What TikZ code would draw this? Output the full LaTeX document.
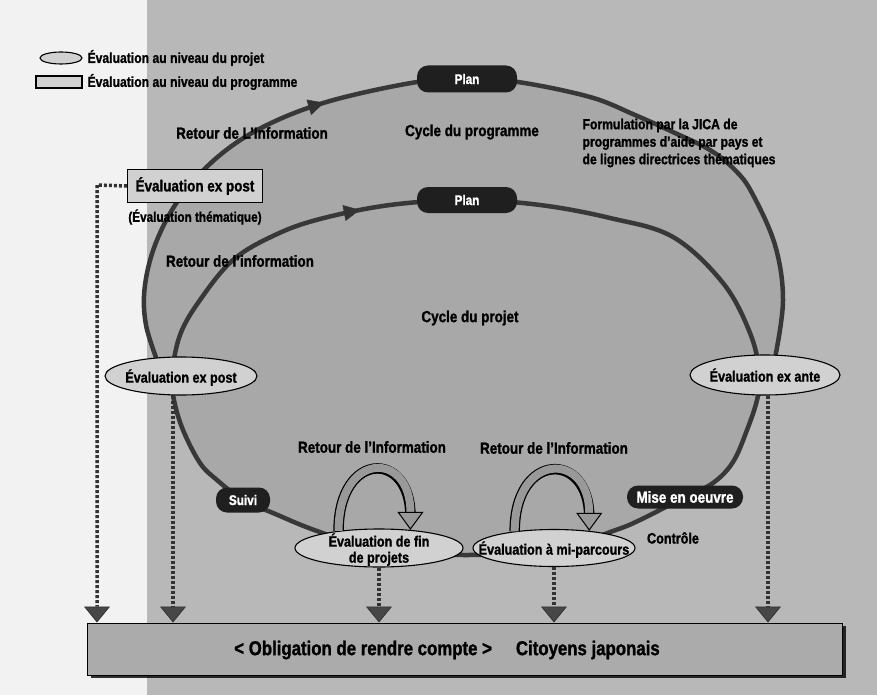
\documentclass[tikz,border=0pt]{standalone}
\usepackage{fontspec}
\setmainfont{Liberation Sans}[FakeStretch=0.84, BoldFeatures={FakeBold=1.2}]
\usetikzlibrary{shapes.geometric, arrows.meta, decorations.markings, shadows}
\tikzset{%
    evproj/.style={ellipse, draw=black, line width=1.1pt, fill=black!18, inner sep=0pt,
        font=\bfseries\fontsize{15}{17}\selectfont},
    evprog/.style={draw=black, line width=1.1pt, fill=black!18,
        font=\bfseries\fontsize{16}{18}\selectfont},
    pill/.style={rounded corners=11pt, fill=black!88, text=white, inner sep=0pt,
        font=\bfseries\fontsize{14}{16}\selectfont},
    lbl/.style={font=\bfseries\fontsize{16}{18}\selectfont},
    cyc/.style={line width=4.5pt, draw=black!78, fill=black!34},
    dotarr/.style={draw=black!80, line width=3.5pt, dash pattern=on 3pt off 2pt,
        -{Triangle[width=26pt,length=16pt,line width=0.8pt,fill=black!72]}},
    uarr/.style={line width=8pt, draw=black!40,
        -{Triangle[width=26pt,length=18pt,line width=1pt,color=black,fill=black!40]},
        preaction={draw=black, line width=10.5pt, -, shorten >=14pt}}
}
\newcommand{\ctext}[1]{\makebox[0pt]{\raisebox{-0.5\height}[0pt][0pt]{#1}}}

\begin{document}
\begin{tikzpicture}[x=1pt, y=-1pt]
    \useasboundingbox (0,0) rectangle (877,695);
    \fill[black!5] (0,0) rectangle (877,695);
    \fill[black!28] (147,0) rectangle (877,695);

    % cycle du programme
    \draw[cyc, postaction={decorate}, decoration={markings, mark=at position 0.36 with
        {\arrow[black!80]{Triangle[width=16pt,length=16pt,line width=0.5pt]}}}]
        plot[smooth, tension=0.6] coordinates {(160,368) (146,325) (145,285) (157,240)
        (182,195) (220,155) (267,125) (330,101) (417,82) (467,79) (518,82) (590,97)
        (635,115) (675,133) (710,150) (735,170) (752,193) (775,245) (783,300) (775,358)};
    % cycle du projet
    \draw[cyc, postaction={decorate}, decoration={markings, mark=at position 0.151 with
        {\arrow[black!80]{Triangle[width=16pt,length=16pt,line width=0.5pt]}}}]
        plot[smooth cycle, tension=0.6] coordinates {(172,375) (180,335) (200,300)
        (233,260) (275,235) (320,219) (390,205) (467,200) (540,205) (610,218) (673,237)
        (723,283) (750,333) (760,375) (757,400) (747,430) (733,462) (713,483) (685,497)
        (640,520) (613,531) (554,550) (466,555) (379,550) (317,531) (273,513) (243,500)
        (217,480) (200,463) (183,430) (174,400)};

    \node[draw=black, line width=1pt, fill=black!33, minimum width=755pt, minimum height=52pt,
        drop shadow={shadow xshift=3pt, shadow yshift=-3pt, fill=black, opacity=0.8}] (acc) at (465,649) {};
    \node[lbl, font=\bfseries\fontsize{20}{22}\selectfont] (acctxt) at (447,650)
        {< Obligation de rendre compte >\hspace{1.2em}Citoyens japonais};

    % legende
    \node[evproj, minimum width=42pt, minimum height=12pt] (lgell) at (61,58) {};
    \node[evprog, minimum width=46pt, minimum height=12pt, inner sep=0pt] (lgbox) at (59,82) {};
    \node[lbl, font=\bfseries\fontsize{14.5}{16}\selectfont, anchor=west] (lgtxt1) at (84,58)
        {Évaluation au niveau du projet};
    \node[lbl, font=\bfseries\fontsize{14.5}{16}\selectfont, anchor=west] (lgtxt2) at (84,82)
        {Évaluation au niveau du programme};

    \node[pill, minimum width=100pt, minimum height=27pt] (plan1) at (467,79) {Plan};
    \node[pill, minimum width=100pt, minimum height=26pt] (plan2) at (467,200) {Plan};
    \node[pill, minimum width=54pt, minimum height=25pt] (suivi) at (243,500) {Suivi};
    \node[pill, minimum width=116pt, minimum height=23pt, font=\bfseries\fontsize{16}{18}\selectfont]
        (mise) at (685,497) {Mise en oeuvre};

    \node[evprog, minimum width=135pt, minimum height=33pt] (epbox) at (195,186) {Évaluation ex post};
    \node[lbl, font=\bfseries\fontsize{14}{16}\selectfont] (them) at (195,217) {(Évaluation thématique)};

    \node[evproj, minimum width=152pt, minimum height=38pt] (expost) at (181,376) {\ctext{Évaluation ex post}};
    \node[evproj, minimum width=150pt, minimum height=40pt] (exante) at (765,375) {\ctext{Évaluation ex ante}};
    \node[evproj, minimum width=168pt, minimum height=38pt] (fin) at (379,548)
        {\ctext{\shortstack{Évaluation de fin\\[2pt]de projets}}};
    \node[evproj, minimum width=162pt, minimum height=37pt] (miparc) at (554,548)
        {\ctext{Évaluation à mi-parcours}};

    \node[lbl] (ret1) at (252,133) {Retour de L'Information};
    \node[lbl] (cprog) at (472,132) {Cycle du programme};
    \node[lbl, font=\bfseries\fontsize{14.5}{17.5}\selectfont, align=left, anchor=west] (jica) at (579,143)
        {Formulation par la JICA de\\programmes d'aide par pays et\\de lignes directrices thématiques};
    \node[lbl] (ret2) at (240,261) {Retour de l'information};
    \node[lbl] (cproj) at (470,318) {Cycle du projet};
    \node[lbl] (ret3) at (372,447) {Retour de l'Information};
    \node[lbl] (ret4) at (554,448) {Retour de l'Information};
    \node[lbl, font=\bfseries\fontsize{15}{17}\selectfont] (ctrl) at (673,538) {Contrôle};

    % vers les citoyens
    \coordinate (c1) at (97,185);
    \draw[dotarr] (epbox.west) -- (c1) -- (c1 |- acc.north);
    \draw[dotarr] ([xshift=-8pt]expost.south) -- ([xshift=-8pt]expost.south |- acc.north);
    \draw[dotarr] (fin.south) -- (fin.south |- acc.north);
    \draw[dotarr] (miparc.south) -- (miparc.south |- acc.north);
    \draw[dotarr] ([xshift=3pt]exante.south) -- ([xshift=3pt]exante.south |- acc.north);

    \draw[uarr] (fin.157) .. controls +(0,-80) and +(0,-80) .. (fin.30);
    \draw[uarr] (miparc.157) .. controls +(0,-80) and +(0,-80) .. (miparc.26);
\end{tikzpicture}
\end{document}
